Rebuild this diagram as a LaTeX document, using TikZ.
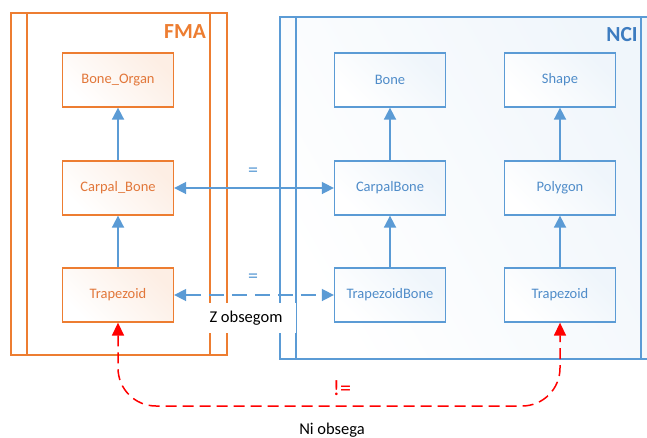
\documentclass[tikz,border=0pt]{standalone}
\usepackage{fontspec}
\setmainfont{Carlito}
\usetikzlibrary{arrows.meta}
\definecolor{fmaorange}{HTML}{ED7D31}
\definecolor{fmatext}{HTML}{E2773A}
\definecolor{nciblue}{HTML}{5B9BD5}
\definecolor{ncitext}{HTML}{4F8CC9}
\definecolor{ncilabel}{HTML}{3D7CC0}
\definecolor{redline}{HTML}{FF0000}
\tikzset{
  frameline/.style={line width=1.2pt},
  fmabox/.style={draw=fmaorange, line width=1.3pt, minimum width=111pt, minimum height=54pt,
    left color=fmaorange!13, right color=white, shading angle=-45, text=fmatext,
    font=\fontsize{14.5}{17}\selectfont},
  ncibox/.style={draw=nciblue, line width=1.3pt, minimum width=111pt, minimum height=54pt,
    left color=nciblue!10, right color=white, shading angle=-45, text=ncitext,
    font=\fontsize{14.5}{17}\selectfont},
  isa/.style={draw=nciblue, line width=1.8pt, -{Triangle[length=12pt,width=12pt]}},
  equiv/.style={draw=nciblue, line width=1.6pt,
    {Triangle[length=12pt,width=12pt]}-{Triangle[length=12pt,width=12pt]}},
  noneq/.style={draw=redline, line width=1.5pt, dash pattern=on 11pt off 6pt,
    {Triangle[length=13pt,width=12pt]}-{Triangle[length=13pt,width=12pt]}},
  eqlabel/.style={text=nciblue, font=\fontsize{20}{22}\selectfont},
  caption/.style={text=black, font=\fontsize{16.5}{19}\selectfont},
}
\begin{document}
\begin{tikzpicture}[x=1pt,y=-1pt]
\useasboundingbox (0,0) rectangle (647,437);
\fill[white] (0,0) rectangle (647,437);

% FMA container
\draw[frameline, draw=fmaorange, fill=white] (11,13) rectangle (227,355);
\draw[frameline, draw=fmaorange] (27,13) -- (27,355) (210,13) -- (210,355);
\node[text=fmaorange, font=\fontsize{21.5}{24}\bfseries] (fmalabel) at (185,32) {FMA};

% NCI container (continues past the right edge)
\shade[left color=nciblue!9, right color=white, shading angle=-60] (280,17) rectangle (660,359);
\draw[frameline, draw=nciblue] (660,17) -- (280,17) -- (280,359) -- (660,359);
\draw[frameline, draw=nciblue] (296,17) -- (296,359) (641,17) -- (641,359);
\node[text=ncilabel, font=\fontsize{21.5}{24}\bfseries] (ncilabel) at (622,35) {NCI};

% FMA classes
\node[fmabox] (boneorgan) at (118,80) {Bone\_Organ};
\node[fmabox] (carpal) at (118,188) {Carpal\_Bone};
\node[fmabox] (trap) at (118,295) {Trapezoid};

% NCI classes
\node[ncibox] (bone) at (390,80) {Bone};
\node[ncibox] (carpalbone) at (390,188) {CarpalBone};
\node[ncibox] (trapbone) at (390,295) {TrapezoidBone};
\node[ncibox] (shape) at (560,80) {Shape};
\node[ncibox] (polygon) at (560,188) {Polygon};
\node[ncibox] (ncitrap) at (560,295) {Trapezoid};

% subclass links
\draw[isa] (carpal) -- (boneorgan);
\draw[isa] (trap) -- (carpal);
\draw[isa] (carpalbone) -- (bone);
\draw[isa] (trapbone) -- (carpalbone);
\draw[isa] (polygon) -- (shape);
\draw[isa] (ncitrap) -- (polygon);

% equivalences
\draw[equiv] (carpal) -- (carpalbone);
\node[eqlabel] (eq1) at (253,172) {=};
\draw[equiv, dash pattern=on 15pt off 8pt] (trap) -- (trapbone);
\node[eqlabel] (eq2) at (253,278) {=};
\node[caption, fill=white, minimum width=100pt, minimum height=30pt] (zobsegom) at (246,318) {Z obsegom};

% non-equivalence
\coordinate (below) at (338,406);
\draw[noneq, rounded corners=38pt] (trap.south) |- (below) -| (ncitrap.south);
\node[text=redline, font=\fontsize{22}{24}\selectfont] (neq) at (342,388) {!=};
\node[caption] (niobsega) at (332,430) {Ni obsega};
\end{tikzpicture}
\end{document}
